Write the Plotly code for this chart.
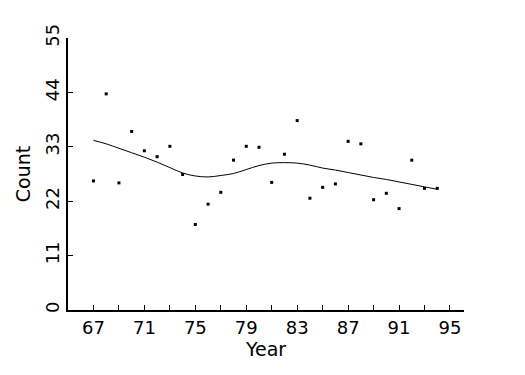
import plotly.graph_objects as go

years = list(range(67, 95))
counts = [26.1, 43.7, 25.7, 36.1, 32.2, 31.0, 33.1, 27.4, 17.3, 21.4, 23.8, 30.3, 33.1, 32.9,
          25.8, 31.5, 38.3, 22.6, 24.8, 25.5, 34.1, 33.6, 22.3, 23.6, 20.5, 30.3, 24.6, 24.6]
smooth = [34.3, 33.6, 32.7, 31.8, 30.9, 29.9, 28.8, 27.7, 27.1, 26.9, 27.2, 27.6, 28.4, 29.2,
          29.7, 29.8, 29.7, 29.3, 28.7, 28.3, 27.8, 27.3, 26.8, 26.4, 25.9, 25.4, 24.9, 24.4]

font_family = "DejaVu Sans"

fig = go.Figure()
fig.add_trace(go.Scatter(x=years, y=counts, mode="markers",
                         marker=dict(symbol="square", size=3, color="black"),
                         showlegend=False))
fig.add_trace(go.Scatter(x=years, y=smooth, mode="lines",
                         line=dict(color="black", width=1, shape="spline"),
                         showlegend=False))

fig.update_layout(
    width=525, height=375,
    margin=dict(l=68, r=61, t=38, b=65),
    paper_bgcolor="white", plot_bgcolor="white",
    font=dict(family=font_family, size=18, color="black"),
)
fig.update_xaxes(
    range=[65, 96.1], tickmode="linear", tick0=67, dtick=4,
    ticks="inside", ticklen=5, tickwidth=1, tickcolor="black",
    minor=dict(ticks="inside", dtick=2, tick0=67, ticklen=5, tickwidth=1, tickcolor="black"),
    showline=True, linecolor="black", linewidth=2, showgrid=False, zeroline=False,
    title=dict(text="Year", font=dict(size=19), standoff=6),
)
fig.update_yaxes(
    range=[0, 55], tickmode="linear", tick0=0, dtick=11,
    ticks="inside", ticklen=5, tickwidth=1, tickcolor="black", tickangle=-90,
    showline=True, linecolor="black", linewidth=2, showgrid=False, zeroline=False,
    title=dict(text="Count", font=dict(size=19), standoff=6),
)

fig.write_html("out.html")
